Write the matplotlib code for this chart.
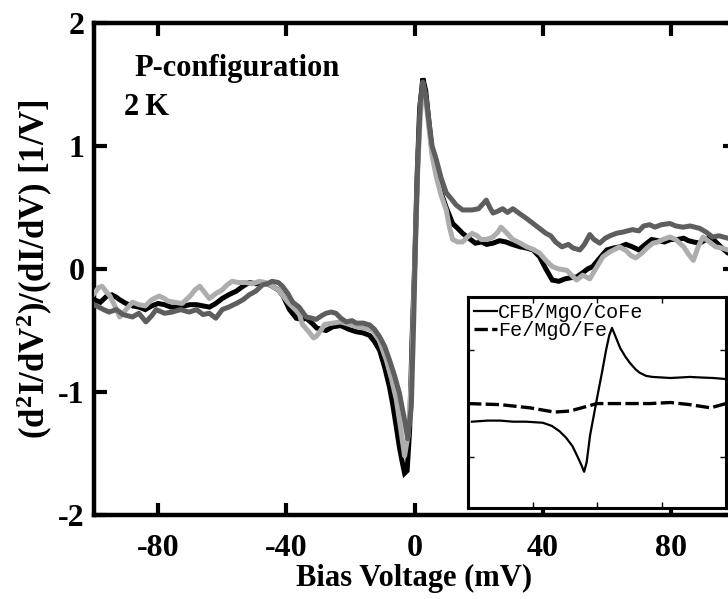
import matplotlib
matplotlib.use("Agg")
import matplotlib.pyplot as plt

plt.rcParams['font.family'] = ['Liberation Serif', 'DejaVu Serif']
plt.rcParams['font.weight'] = 'bold'
plt.rcParams['axes.unicode_minus'] = False
plt.rcParams['mathtext.fontset'] = 'custom'
plt.rcParams['mathtext.rm'] = 'Liberation Serif:bold'
plt.rcParams['mathtext.bf'] = 'Liberation Serif:bold'
plt.rcParams['mathtext.it'] = 'Liberation Serif:bold'

# ---------------- data ----------------
x_dark = [-100, -97, -95.3, -93, -91, -88, -86, -83.8, -82, -80.6, -78, -75.6, -73, -70.3, -68, -66, -64, -62,
          -60, -58, -55.6, -53.5, -51.6, -49.5, -47.5, -46, -44.4, -42.5, -41.2, -39.5, -38, -36, -33.8, -32,
          -30.7, -29, -27.6, -26, -24.5, -23, -21.3, -19.5, -18.2, -16, -14, -12.5, -10.9, -9.3, -7.8, -6.2,
          -4.7, -3.1, -2.1, -1.0, -0.3, 0.3, 1.0, 1.8, 2.6, 3.5, 4.5, 5.5, 6.8, 8.3, 9.9, 11.5, 13, 15, 16.5,
          18, 20, 22.4, 23.5, 24.5, 26, 27.5, 29, 30.7, 32.8, 35, 37, 39, 41, 42.5, 44, 46, 48, 49.5, 51.6, 53,
          54.7, 56, 57.8, 59.5, 61, 63, 65, 68, 70, 71.5, 73.4, 75, 77, 79.7, 81.5, 83.8, 86, 89, 91, 93, 95,
          97.8, 100]
y_dark = [-0.29, -0.33, -0.35, -0.33, -0.37, -0.39, -0.36, -0.43, -0.38, -0.33, -0.36, -0.35, -0.33, -0.35,
          -0.33, -0.37, -0.36, -0.40, -0.33, -0.31, -0.28, -0.25, -0.21, -0.18, -0.13, -0.12, -0.10, -0.11,
          -0.14, -0.20, -0.27, -0.31, -0.39, -0.40, -0.41, -0.38, -0.36, -0.35, -0.36, -0.40, -0.43, -0.42,
          -0.44, -0.44, -0.455, -0.49, -0.55, -0.63, -0.74, -0.87, -1.01, -1.23, -1.38, -1.12, -0.47, 0.2,
          0.85, 1.35, 1.52, 1.42, 1.2, 1.0, 0.89, 0.74, 0.62, 0.57, 0.52, 0.48, 0.48, 0.48, 0.49, 0.56, 0.5,
          0.455, 0.47, 0.49, 0.46, 0.49, 0.45, 0.41, 0.37, 0.33, 0.29, 0.27, 0.22, 0.18, 0.20, 0.17, 0.155,
          0.20, 0.28, 0.24, 0.21, 0.25, 0.27, 0.29, 0.30, 0.32, 0.31, 0.35, 0.36, 0.34, 0.36, 0.37, 0.35,
          0.34, 0.35, 0.33, 0.30, 0.26, 0.27, 0.25, 0.24]

x_light = [-100, -98.5, -97.5, -96, -95, -93.5, -92, -90, -88, -86, -84, -82, -79.7, -78, -77, -75, -72.5, -70,
           -68.5, -67, -65.5, -64, -62, -60, -58.5, -56.9, -55, -52.5, -50.5, -48.4, -46.5, -44.4, -42.5, -41,
           -39.5, -38, -36, -35, -33, -31.5, -30.7, -29, -28, -25.5, -23, -20.5, -18, -15.5, -13, -11, -8.8,
           -7.2, -5.7, -4.3, -3.1, -2.0, -1.0, -0.3, 0.4, 1.0, 1.8, 2.6, 3.5, 4.5, 5.5, 6.8, 8.3, 9.9, 10.9,
           11.9, 13.5, 15, 16.5, 18, 19.5, 20.8, 22.5, 24.5, 26, 27, 28.5, 30.7, 33, 35, 37, 39, 41, 43, 45,
           47.5, 49, 50.6, 52.5, 54.7, 56.5, 58.8, 61, 64, 66, 67.5, 69, 71, 72.5, 74.4, 76, 77.5, 79.7, 81.5,
           84, 85.5, 87, 88.5, 90, 92, 94, 96, 97.8, 100]
y_light = [-0.20, -0.15, -0.14, -0.19, -0.22, -0.30, -0.39, -0.33, -0.27, -0.29, -0.30, -0.25, -0.22, -0.24,
           -0.26, -0.27, -0.28, -0.22, -0.17, -0.14, -0.19, -0.24, -0.20, -0.17, -0.13, -0.10, -0.11, -0.11,
           -0.12, -0.10, -0.11, -0.14, -0.17, -0.22, -0.27, -0.31, -0.36, -0.45, -0.51, -0.56, -0.55, -0.49,
           -0.45, -0.44, -0.43, -0.45, -0.47, -0.48, -0.50, -0.58, -0.74, -0.89, -1.06, -1.30, -1.52, -1.35,
           -0.9, -0.3, 0.3, 0.8, 1.25, 1.45, 1.38, 1.15, 0.92, 0.75, 0.60, 0.48, 0.34, 0.24, 0.22, 0.22, 0.26,
           0.29, 0.27, 0.24, 0.24, 0.26, 0.30, 0.34, 0.30, 0.24, 0.21, 0.18, 0.16, 0.13, 0.07, 0.02, 0.0,
           -0.01, -0.05, -0.09, -0.05, -0.08, 0.0, 0.10, 0.14, 0.18, 0.15, 0.11, 0.09, 0.13, 0.17, 0.21, 0.22,
           0.24, 0.26, 0.24, 0.18, 0.12, 0.07, 0.18, 0.26, 0.22, 0.18, 0.17, 0.155, 0.15]

x_black = [-100, -98, -96, -94.4, -93, -92, -90, -88, -86, -84, -82, -80, -78, -76, -74.4, -72, -70, -68, -66,
           -64, -62, -60, -58, -55.6, -53.5, -51.6, -49.5, -47.5, -46, -44.4, -42.5, -41, -39, -36.9, -35,
           -33.8, -32, -30.5, -29, -27.6, -25.5, -23, -20.5, -18.2, -16, -14, -12.5, -10.9, -9.3, -7.8, -6.8,
           -5.7, -4.7, -3.9, -3.1, -2.3, -1.5, -0.8, 0, 0.8, 1.6, 2.6, 3.5, 4.5, 5.5, 6.8, 8.3, 9.9, 11.9,
           13.5, 15, 17, 19, 21, 22.5, 24.5, 26.5, 28.5, 30.5, 33, 35, 37, 39, 41, 43, 45, 47, 49, 50.6, 52.5,
           54, 55.6, 57.5, 60, 62, 64, 66, 68, 70, 72, 74, 76, 78, 80, 82, 84, 85.5, 87, 89, 91, 92.5, 94, 96,
           97.8, 100]
y_black = [-0.25, -0.27, -0.22, -0.21, -0.23, -0.25, -0.28, -0.30, -0.31, -0.33, -0.30, -0.28, -0.29, -0.31,
           -0.31, -0.30, -0.29, -0.29, -0.30, -0.31, -0.28, -0.24, -0.21, -0.18, -0.14, -0.11, -0.12, -0.11,
           -0.12, -0.14, -0.17, -0.22, -0.33, -0.40, -0.41, -0.40, -0.44, -0.48, -0.49, -0.50, -0.47, -0.46,
           -0.49, -0.51, -0.52, -0.54, -0.59, -0.66, -0.80, -0.96, -1.10, -1.28, -1.45, -1.56, -1.66, -1.64,
           -1.3, -0.6, 0.0, 0.75, 1.3, 1.55, 1.45, 1.2, 0.95, 0.78, 0.62, 0.50, 0.37, 0.33, 0.29, 0.25, 0.21,
           0.22, 0.20, 0.21, 0.23, 0.22, 0.20, 0.18, 0.17, 0.155, 0.10, 0.0, -0.09, -0.10, -0.08, -0.07,
           -0.065, -0.03, 0.0, 0.02, 0.08, 0.155, 0.17, 0.18, 0.20, 0.18, 0.155, 0.20, 0.24, 0.23, 0.22, 0.24,
           0.24, 0.25, 0.23, 0.22, 0.21, 0.24, 0.26, 0.22, 0.17, 0.13, 0.12]

# inset curves
inset_x_cfb = [-97, -85, -75, -65, -55, -42, -35, -29, -24, -19, -15, -12, -10, -8, -5.4, -2, 0.8, 4, 7,
               9.5, 11.6, 14, 18, 22, 25.6, 30, 33, 38, 43, 50, 57, 65, 72, 80, 90, 100]
inset_y_cfb = [-0.17, -0.16, -0.16, -0.17, -0.17, -0.18, -0.21, -0.26, -0.32, -0.40, -0.50, -0.58, -0.64,
               -0.55, -0.30, -0.08, 0.10, 0.30, 0.50, 0.64, 0.71, 0.64, 0.52, 0.44, 0.38, 0.32, 0.29, 0.26,
               0.25, 0.245, 0.24, 0.245, 0.25, 0.245, 0.24, 0.23]
inset_x_fe = [-100, -75, -52, -33, -21, -9, 0, 18, 41, 57, 72, 88, 100]
inset_y_fe = [0.0, -0.01, -0.04, -0.08, -0.07, -0.03, 0.0, 0.0, 0.0, 0.01, -0.01, -0.04, 0.0]
inset_labels = ['CFB/MgO/CoFe', 'Fe/MgO/Fe']

x_ticks = [-80, -40, 0, 40, 80]
x_ticklabels = ['-80', '-40', '0', '40', '80']
y_ticks = [-2, -1, 0, 1, 2]
y_ticklabels = ['-2', '-1', '0', '1', '2']

# ---------------- figure ----------------
W, H = 728, 599
fig = plt.figure(figsize=(W / 100, H / 100), dpi=100)
ax = fig.add_axes([94 / W, 1 - 515 / H, (735 - 94) / W, (515 - 23) / H])

lw = 3.6
ax.plot(x_black, y_black, color='black', lw=lw, solid_joinstyle='miter', zorder=2)
ax.plot(x_light, y_light, color='#adadad', lw=lw, zorder=3)
ax.plot(x_dark, y_dark, color='#5e5e5e', lw=lw, zorder=4)

ax.set_xlim(-100, 100)
ax.set_ylim(-2, 2)
ax.set_xticks(x_ticks, x_ticklabels)
ax.set_yticks(y_ticks, y_ticklabels)
for s in ax.spines.values():
    s.set_linewidth(3.2)
ax.tick_params(direction='in', length=9, width=3, top=True, right=True, labelsize=23)
ax.tick_params(axis='x', pad=14)
ax.tick_params(axis='y', pad=7)
for lab in ax.get_xticklabels() + ax.get_yticklabels():
    lab.set_fontweight('bold')

ax.set_xlabel('Bias Voltage (mV)', fontsize=22, fontweight='bold', labelpad=0)
ax.set_ylabel(r'(d$^{2}$I/dV$^{2}$)/(dI/dV) [1/V]', fontsize=25, fontweight='bold', labelpad=2)

ax.text(-87.5, 1.63, 'P-configuration', fontsize=22, fontweight='bold', va='center', ha='left')
ax.text(-90.6, 1.31, '2\u2009K', fontsize=22, fontweight='bold', va='center', ha='left')

# ---------------- inset ----------------
axi = fig.add_axes([468 / W, 1 - 508 / H, (726 - 468) / W, (508 - 297) / H])
axi.plot(inset_x_cfb, inset_y_cfb, color='black', lw=1.6, label=inset_labels[0])
axi.plot(inset_x_fe, inset_y_fe, color='black', lw=2.4, dashes=(4, 1.3), label=inset_labels[1])
axi.set_xlim(-100, 100)
axi.set_ylim(-0.98, 1.0)
axi.set_xticks([-50, 0, 50])
axi.set_yticks([-0.5, 0.5])
axi.tick_params(direction='in', length=4, width=1, top=True, right=True,
                labelbottom=False, labelleft=False)
for s in axi.spines.values():
    s.set_linewidth(2.2)
axi.legend(loc='upper left', frameon=False, prop={'family': 'Liberation Mono', 'size': 14.5, 'weight': 'normal'},
           handlelength=1.15, handletextpad=0.05, labelspacing=-0.05, borderaxespad=0.0, borderpad=0.3)

fig.savefig('out.png', dpi=100)
